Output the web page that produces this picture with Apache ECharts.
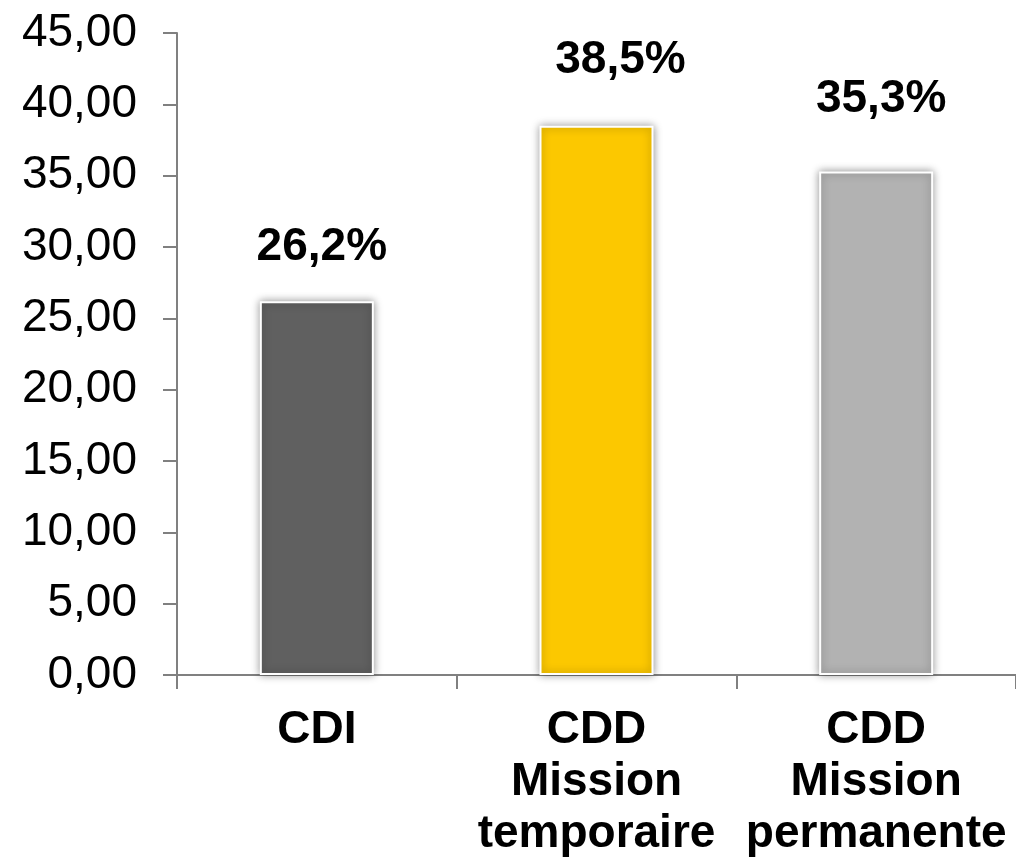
<!DOCTYPE html>
<html>
<head>
<meta charset="utf-8">
<script src="https://cdn.jsdelivr.net/npm/echarts@6/dist/echarts.min.js"></script>
<style>
  html, body { margin: 0; padding: 0; background: #fff; }
  #chart { width: 1016px; height: 865px; }
</style>
</head>
<body>
<div id="chart"></div>
<script>
const categories = ['CDI', 'CDD\nMission\ntemporaire', 'CDD\nMission\npermanente'];
const values = [26.2, 38.5, 35.3];
const barColors = ['#606060', '#FCC800', '#B2B2B2'];
const valueLabels = ['26,2%', '38,5%', '35,3%'];
// label nudges, hand-tuned to the reference
const labelDistance = [31, 42, 49];
const labelShiftX = [5, 24, 5];

const FONT = '"Liberation Sans", Arial, sans-serif';
const axisGrey = '#808080';

const chart = echarts.init(document.getElementById('chart'), null, { renderer: 'canvas' });

chart.setOption({
  animation: false,
  backgroundColor: '#fff',
  grid: { left: 177, top: 33, width: 840, height: 642, containLabel: false },
  xAxis: {
    type: 'category',
    data: categories,
    axisLine: { lineStyle: { color: axisGrey, width: 2 } },
    axisTick: { show: true, alignWithLabel: false, interval: 0, length: 14, lineStyle: { color: axisGrey, width: 2 } },
    axisLabel: {
      interval: 0,
      margin: 29,
      color: '#000',
      fontFamily: FONT,
      fontSize: 46,
      fontWeight: 'bold',
      lineHeight: 52
    }
  },
  yAxis: {
    type: 'value',
    min: 0,
    max: 45,
    interval: 5,
    splitLine: { show: false },
    axisLine: { show: true, lineStyle: { color: axisGrey, width: 2 } },
    axisTick: { show: true, length: 14, lineStyle: { color: axisGrey, width: 2 } },
    axisLabel: {
      margin: 40,
      color: '#000',
      fontFamily: FONT,
      fontSize: 46,
      formatter: v => v.toFixed(2).replace('.', ',')
    }
  },
  series: [{
    type: 'bar',
    barWidth: 114,
    data: values.map((v, i) => ({
      value: v,
      itemStyle: { color: barColors[i] },
      label: {
        distance: labelDistance[i],
        offset: [labelShiftX[i], 0],
        formatter: valueLabels[i]
      }
    })),
    itemStyle: {
      borderColor: '#fff',
      borderWidth: 2,
      shadowBlur: 8,
      shadowColor: 'rgba(0,0,0,0.4)'
    },
    label: {
      show: true,
      position: 'top',
      color: '#000',
      fontFamily: FONT,
      fontSize: 46,
      fontWeight: 'bold',
      lineHeight: 46
    }
  }]
});
</script>
</body>
</html>
